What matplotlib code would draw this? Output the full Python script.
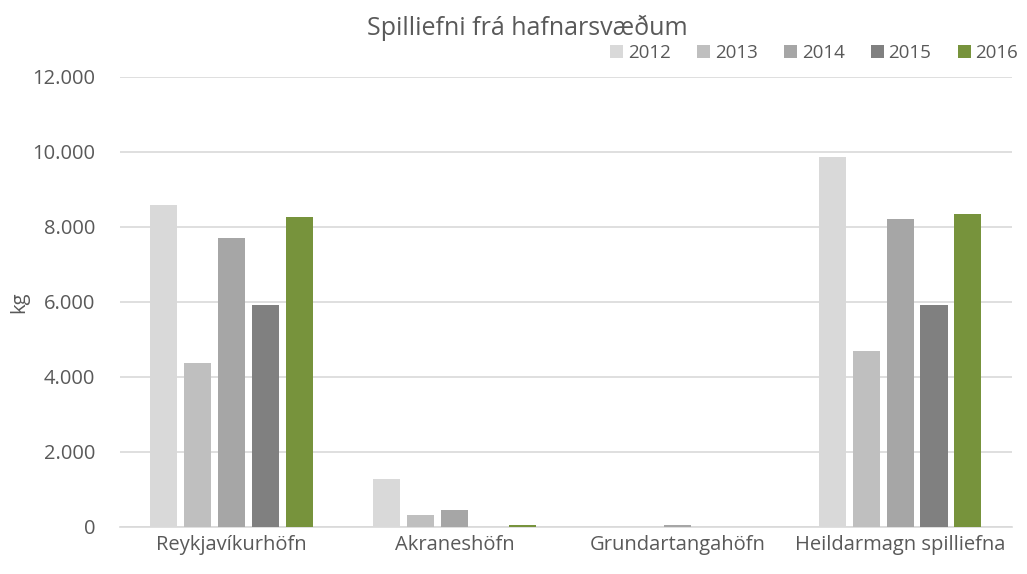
import numpy as np
import matplotlib
matplotlib.use("Agg")
import matplotlib.pyplot as plt
from matplotlib.ticker import FuncFormatter

categories = ["Reykjavíkurhöfn", "Akraneshöfn", "Grundartangahöfn", "Heildarmagn spilliefna"]
years = ["2012", "2013", "2014", "2015", "2016"]
values = {
    "2012": [8590, 1280, 0, 9870],
    "2013": [4370, 330, 0, 4690],
    "2014": [7710, 450, 50, 8210],
    "2015": [5920, 0, 0, 5920],
    "2016": [8270, 50, 0, 8350],
}
colors = ["#D9D9D9", "#BFBFBF", "#A6A6A6", "#808080", "#77933C"]
yticks = [0, 2000, 4000, 6000, 8000, 10000, 12000]

plt.rcParams["font.family"] = ["Open Sans", "DejaVu Sans"]
text_color = "#595959"
fs = 14.5

fig = plt.figure(figsize=(10.27, 5.74), dpi=100)
ax = fig.add_axes([0.117, 0.082, 0.868, 0.784])

x = np.arange(len(categories))
slot = 0.152
for i, year in enumerate(years):
    offset = (i - 2) * slot
    ax.bar(x + offset, values[year], width=slot * 0.8, color=colors[i], label=year, zorder=3)

ax.set_xlim(-0.5, len(categories) - 0.5)
ax.set_ylim(0, 12000)
ax.set_yticks(yticks)
ax.yaxis.set_major_formatter(FuncFormatter(lambda v, _: f"{int(v):,}".replace(",", ".")))
ax.set_xticks(x)
ax.set_xticklabels(categories)
ax.grid(axis="y", color="#D9D9D9", linewidth=1.2, zorder=0)
for side in ("top", "right", "left"):
    ax.spines[side].set_visible(False)
ax.spines["bottom"].set_color("#D9D9D9")
ax.spines["bottom"].set_linewidth(1.2)
ax.tick_params(axis="both", length=0, labelsize=fs, colors=text_color, pad=6)
ax.tick_params(axis="y", pad=18)
ax.set_ylabel("kg", fontsize=fs, color=text_color, labelpad=2)

fig.text(0.513, 0.952, "Spilliefni frá hafnarsvæðum", ha="center", va="center",
         fontsize=18, color=text_color)
fig.legend(loc="center right", bbox_to_anchor=(0.997, 0.907), ncol=5, frameon=False,
           fontsize=13.5, labelcolor=text_color, handlelength=0.7, handleheight=0.7,
           handletextpad=0.25, columnspacing=1.4, borderaxespad=0.0, borderpad=0.3)

fig.savefig("out.png", dpi=100)
